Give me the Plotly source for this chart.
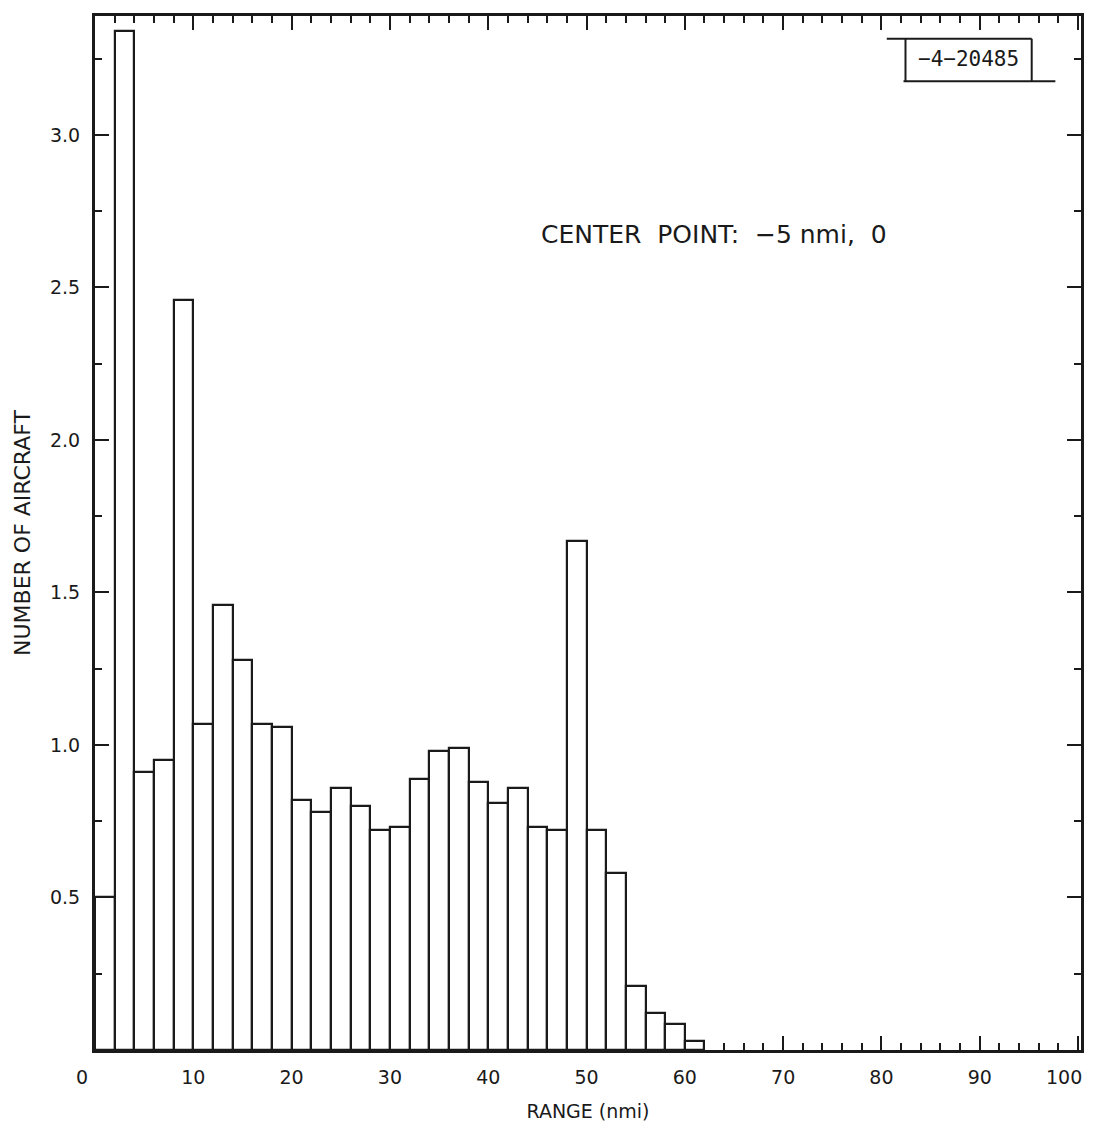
import plotly.graph_objects as go

# Data (2-nmi range bins)
bin_start = [0, 2, 4, 6, 8, 10, 12, 14, 16, 18, 20, 22, 24, 26, 28, 30,
             32, 34, 36, 38, 40, 42, 44, 46, 48, 50, 52, 54, 56, 58, 60]
num_aircraft = [0.50, 3.34, 0.91, 0.95, 2.46, 1.07, 1.46, 1.28, 1.07, 1.06,
                0.82, 0.78, 0.86, 0.80, 0.72, 0.73, 0.89, 0.98, 0.99, 0.88,
                0.81, 0.86, 0.73, 0.72, 1.67, 0.72, 0.58, 0.21, 0.12, 0.085, 0.03]
bin_width = 2
x_ticks = [0, 10, 20, 30, 40, 50, 60, 70, 80, 90, 100]
y_ticks = [0.5, 1.0, 1.5, 2.0, 2.5, 3.0]

centers = [s + bin_width / 2 for s in bin_start]

FONT = "DejaVu Sans"
INK = "#1a1a1a"

fig = go.Figure()
fig.add_trace(go.Bar(
    x=centers, y=num_aircraft, width=bin_width,
    marker=dict(color="white", line=dict(color=INK, width=2.2)),
    showlegend=False, hoverinfo="skip",
))

fig.update_layout(
    width=1095, height=1135,
    margin=dict(l=87, r=22, t=5, b=93),
    paper_bgcolor="white", plot_bgcolor="white",
    font=dict(family=FONT, color=INK, size=19),
    bargap=0,
)

inner_ticks = x_ticks[1:-1]
fig.update_xaxes(
    range=[0, 100.3], showgrid=False, zeroline=False,
    showline=True, linewidth=3, linecolor=INK, mirror="allticks",
    ticks="inside", ticklen=14, tickwidth=1.5, tickcolor=INK,
    tickvals=x_ticks, ticktext=["" if v in (x_ticks[0], x_ticks[-1]) else str(v) for v in x_ticks],
    tickfont=dict(size=19, family=FONT), ticklabelstandoff=8,
    minor=dict(dtick=2, ticks="inside", ticklen=7, tickwidth=1.5, tickcolor=INK),
    title=dict(text="RANGE (nmi)", font=dict(size=19, family=FONT), standoff=18),
)
# end labels of the x axis sit slightly inward/outward of their ticks, as in the original
for v, shift in [(x_ticks[0], -13), (x_ticks[-1], -14)]:
    fig.add_annotation(
        x=v, xref="x", y=0, yref="paper", text=str(v), showarrow=False,
        xanchor="center", yanchor="top", xshift=shift, yshift=-14,
        font=dict(size=19, family=FONT, color=INK),
    )

fig.update_yaxes(
    range=[0, 3.39], showgrid=False, zeroline=False,
    showline=True, linewidth=3, linecolor=INK, mirror="allticks",
    ticks="inside", ticklen=14, tickwidth=1.5, tickcolor=INK,
    tickvals=y_ticks, ticktext=[f"{v:.1f}" for v in y_ticks],
    tickfont=dict(size=19, family=FONT), ticklabelstandoff=8,
    minor=dict(dtick=0.25, ticks="inside", ticklen=7, tickwidth=1.5, tickcolor=INK),
    title=dict(text="NUMBER OF AIRCRAFT", font=dict(size=22, family=FONT), standoff=14),
)

# "CENTER POINT" annotation
fig.add_annotation(
    xref="paper", yref="paper", x=0.628, y=0.789,
    text="CENTER  POINT:  \u22125 nmi,  0", showarrow=False,
    font=dict(size=25, family=FONT, color=INK),
    xanchor="center", yanchor="middle",
)

# Report-number box at upper right
fig.add_annotation(
    xref="paper", yref="paper", x=0.886, y=0.958,
    text="\u22124\u221220485", showarrow=False,
    font=dict(size=21, family="DejaVu Sans Mono", color=INK),
    xanchor="center", yanchor="middle",
)
line_style = dict(color=INK, width=2)
for (x0, y0, x1, y1) in [(0.803, 0.978, 0.950, 0.978),
                         (0.820, 0.937, 0.974, 0.937),
                         (0.822, 0.978, 0.822, 0.937),
                         (0.950, 0.978, 0.950, 0.937)]:
    fig.add_shape(type="line", xref="paper", yref="paper",
                  x0=x0, y0=y0, x1=x1, y1=y1, line=line_style)

fig.write_html("out.html")
